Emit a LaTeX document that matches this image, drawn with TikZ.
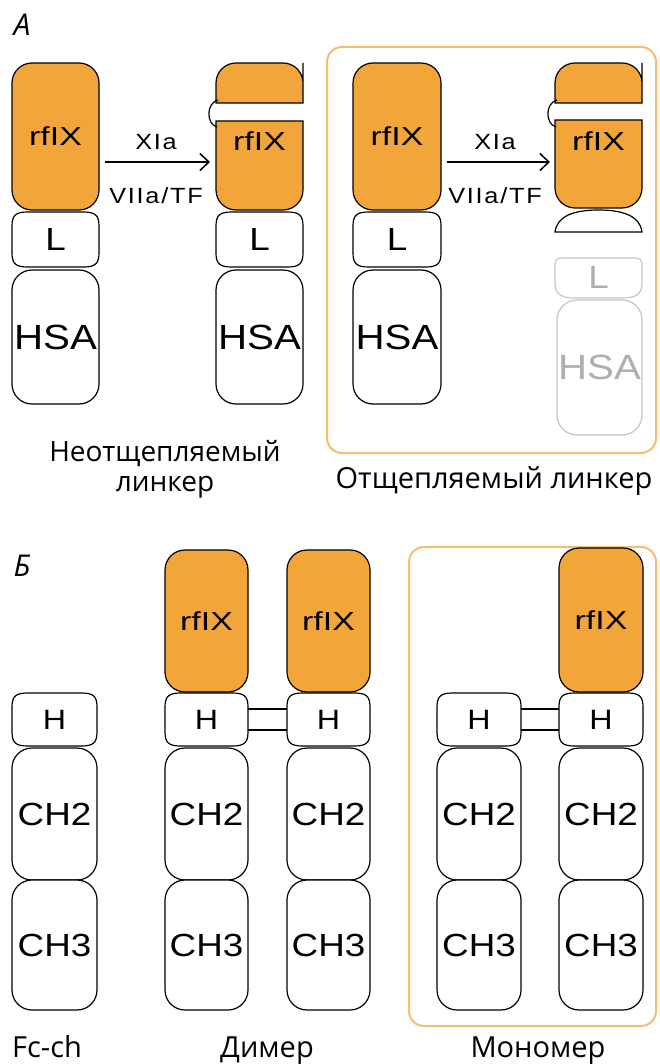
\documentclass[tikz,border=0pt]{standalone}
\usepackage{fontspec}
\setmainfont{Liberation Sans}
\newfontfamily\boxfont[FakeStretch=1.15]{Liberation Sans}
\newfontfamily\rffont[FakeStretch=1.3]{Liberation Sans}
\newfontfamily\arrfont[FakeStretch=1.15,LetterSpace=8]{Liberation Sans}
\newfontfamily\labfont{Open Sans}
\usetikzlibrary{arrows.meta}
\definecolor{orfill}{RGB}{242,166,58}
\definecolor{panel}{RGB}{246,190,110}
\definecolor{faded}{RGB}{200,196,192}
\definecolor{fadedtext}{RGB}{175,175,175}
\newcommand\barrelpath[4]{(#1,#2+14) .. controls (#1,#2+3) and (#1+4,#2) .. (#1+16,#2) -- (#3-16,#2) .. controls (#3-4,#2) and (#3,#2+3) .. (#3,#2+14) -- (#3,#4-14) .. controls (#3,#4-3) and (#3-4,#4) .. (#3-16,#4) -- (#1+16,#4) .. controls (#1+4,#4) and (#1,#4-3) .. (#1,#4-14) -- cycle}
\tikzset{
  ol/.style={line width=1.2pt, draw=black},
  rf/.style={ol, fill=orfill, rounded corners=20pt, inner sep=0pt, font=\rffont\fontsize{26}{26}\selectfont},
  rftxt/.style={inner sep=0pt, font=\rffont\fontsize{26}{26}\selectfont},
  wbox/.style={ol, fill=white, rounded corners=20pt, inner sep=0pt, font=\boxfont\fontsize{32}{32}\selectfont},
  hsabox/.style={wbox, font=\boxfont\fontsize{35}{35}\selectfont},
  btxt/.style={inner sep=0pt, font=\boxfont\fontsize{28}{28}\selectfont},
  ltxt/.style={inner sep=0pt, font=\boxfont\fontsize{32}{32}\selectfont},
  arr/.style={line width=1.5pt, -{Straight Barb[length=9pt,width=17pt,line width=1.5pt]}},
  arrlbl/.style={inner sep=0pt, font=\arrfont\fontsize{22}{22}\selectfont},
  caption/.style={inner sep=0pt, anchor=base, font=\labfont\fontsize{29}{29}\selectfont},
  panelbox/.style={draw=panel, line width=2pt, rounded corners=15pt},
  plabel/.style={inner sep=0pt, font=\labfont\itshape\fontsize{30}{30}\selectfont},
}
\begin{document}
\begin{tikzpicture}[x=1pt,y=-1pt]
\fill[white] (0,0) rectangle (659,1064);
\useasboundingbox (0,0) rectangle (659,1064);

% ---------- panel A ----------
\node[plabel] (labA) at (22,25) {A};
\draw[panelbox] (327,47) rectangle (656,453);

% column 1
\node[rf, minimum width=87pt, minimum height=147pt] (a1rf) at (55.5,136.5) {rfIX};
\draw[ol, fill=white] \barrelpath{12}{212}{99}{267};
\node[ltxt, minimum width=87pt] (a1l) at (55.5,239.5) {L};
\node[hsabox, minimum width=87pt, minimum height=134pt] (a1hsa) at (55.5,337) {HSA};

% column 2
\filldraw[ol, fill=orfill] (216,83) [rounded corners=20pt] -- (216,63) -- (303,63) -- (303,83) [sharp corners] -- (303,103) -- (216,103) -- cycle;
\filldraw[ol, fill=orfill] (216,160) -- (216,121) -- (303,121) -- (303,160) [rounded corners=20pt] -- (303,210) -- (216,210) -- (216,160);
\draw[ol] (218,100) .. controls (206,103) and (206,124) .. (217,127);
\node[rftxt, minimum width=87pt] (a2rf) at (259.5,141) {rfIX};
\coordinate (a2in) at (210,162);
\draw[ol, fill=white] \barrelpath{216}{212}{303}{267};
\node[ltxt, minimum width=87pt] (a2l) at (259.5,239.5) {L};
\node[hsabox, minimum width=87pt, minimum height=134pt] (a2hsa) at (259.5,337) {HSA};

\draw[arr] ([xshift=5pt,yshift=-25.5pt]a1rf.east) -- (a2in);
\node[arrlbl] (a1x) at (156,142) {XIa};
\node[arrlbl] (a1v) at (156,196) {VIIa/TF};

% column 3
\node[rf, minimum width=88pt, minimum height=147pt] (a3rf) at (397,136.5) {rfIX};
\draw[ol, fill=white] \barrelpath{353}{212}{441}{267};
\node[ltxt, minimum width=88pt] (a3l) at (397,239.5) {L};
\node[hsabox, minimum width=88pt, minimum height=134pt] (a3hsa) at (397,337) {HSA};

% column 4
\filldraw[ol, fill=orfill] (555,83) [rounded corners=20pt] -- (555,63) -- (642,63) -- (642,83) [sharp corners] -- (642,103) -- (555,103) -- cycle;
\filldraw[ol, fill=orfill] (555,160) -- (555,120) -- (642,120) -- (642,160) [rounded corners=20pt] -- (642,208) -- (555,208) -- (555,160);
\draw[ol] (557,100) .. controls (545,103) and (545,124) .. (556,127);
\node[rftxt, minimum width=87pt] (a4rf) at (598.5,141) {rfIX};
\coordinate (a4in) at (550,162);
\draw[ol, fill=white] (555,232) .. controls (557,216) and (574,210) .. (598.5,210) .. controls (623,210) and (640,216) .. (642,232) -- cycle;
\draw[draw=faded, line width=1.2pt, fill=white] (555,266) .. controls (555,259) and (557,258) .. (563,258) -- (634,258) .. controls (640,258) and (642,259) .. (642,266) -- (642,284) .. controls (642,295) and (634,298) .. (622,298) -- (575,298) .. controls (563,298) and (555,295) .. (555,284) -- cycle;
\node[ltxt, text=fadedtext, minimum width=87pt] (a4l) at (598.5,277) {L};
\node[hsabox, draw=faded, fill=none, text=fadedtext, minimum width=85pt, minimum height=135pt] (a4hsa) at (599.5,367.5) {HSA};

\draw[arr] ([xshift=5pt,yshift=-25.5pt]a3rf.east) -- (a4in);
\node[arrlbl] (a3x) at (495,142) {XIa};
\node[arrlbl] (a3v) at (495,196) {VIIa/TF};

% captions A
\node[caption, align=center, anchor=north, font=\labfont\fontsize{28}{30}\selectfont] (capA1) at (165,440) {Неотщепляемый\\линкер};
\node[caption] (capA3) at (494,488) {Отщепляемый линкер};

% ---------- panel B ----------
\node[plabel] (labB) at (22,566) {Б};
\draw[panelbox] (409,547) rectangle (656,1026);

% column 1
\draw[ol, fill=white] \barrelpath{12}{693}{97}{746};
\node[btxt, minimum width=85pt] (b1h) at (54.5,719.5) {H};
\node[wbox, minimum width=85pt, minimum height=132pt] (b1c2) at (54.5,814) {CH2};
\node[wbox, minimum width=85pt, minimum height=130pt] (b1c3) at (54.5,945) {CH3};

% column 2
\node[rf, minimum width=83pt, minimum height=142pt] (b2rf) at (206.5,621) {rfIX};
\draw[ol, fill=white] \barrelpath{165}{693}{248}{746};
\node[btxt, minimum width=83pt] (b2h) at (206.5,719.5) {H};
\node[wbox, minimum width=83pt, minimum height=132pt] (b2c2) at (206.5,814) {CH2};
\node[wbox, minimum width=83pt, minimum height=130pt] (b2c3) at (206.5,945) {CH3};

% column 3
\node[rf, minimum width=83pt, minimum height=142pt] (b3rf) at (328.5,621) {rfIX};
\draw[ol, fill=white] \barrelpath{287}{693}{370}{746};
\node[btxt, minimum width=83pt] (b3h) at (328.5,719.5) {H};
\node[wbox, minimum width=83pt, minimum height=132pt] (b3c2) at (328.5,814) {CH2};
\node[wbox, minimum width=83pt, minimum height=130pt] (b3c3) at (328.5,945) {CH3};

\draw[ol] ([yshift=10.5pt]b2h.east) -- ([yshift=10.5pt]b3h.west);
\draw[ol] ([yshift=-10.5pt]b2h.east) -- ([yshift=-10.5pt]b3h.west);

% column 4
\draw[ol, fill=white] \barrelpath{437}{693}{521}{746};
\node[btxt, minimum width=84pt] (b4h) at (479,719.5) {H};
\node[wbox, minimum width=84pt, minimum height=132pt] (b4c2) at (479,814) {CH2};
\node[wbox, minimum width=84pt, minimum height=130pt] (b4c3) at (479,945) {CH3};

% column 5
\node[rf, minimum width=84pt, minimum height=144pt] (b5rf) at (601,620) {rfIX};
\draw[ol, fill=white] \barrelpath{559}{693}{643}{746};
\node[btxt, minimum width=84pt] (b5h) at (601,719.5) {H};
\node[wbox, minimum width=84pt, minimum height=132pt] (b5c2) at (601,814) {CH2};
\node[wbox, minimum width=84pt, minimum height=130pt] (b5c3) at (601,945) {CH3};

\draw[ol] ([yshift=10.5pt]b4h.east) -- ([yshift=10.5pt]b5h.west);
\draw[ol] ([yshift=-10.5pt]b4h.east) -- ([yshift=-10.5pt]b5h.west);

% captions B
\node[caption] (capB1) at (47,1057) {Fc-ch};
\node[caption] (capB2) at (267,1057) {Димер};
\node[caption] (capB3) at (538,1057) {Мономер};
\end{tikzpicture}
\end{document}
